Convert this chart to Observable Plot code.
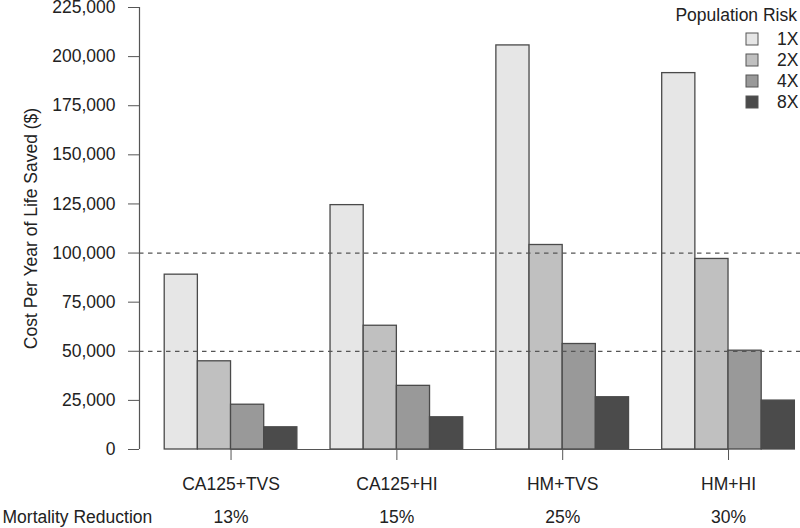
<!DOCTYPE html>
<html>
<head>
<meta charset="utf-8">
<script src="https://cdn.jsdelivr.net/npm/d3@7"></script>
<script src="https://cdn.jsdelivr.net/npm/@observablehq/plot@0.6"></script>
<style>
  body { margin: 0; background: #fff; }
  #chart { position: relative; width: 800px; height: 528px; font-family: "Liberation Sans", Arial, sans-serif; }
  #legendTitle { position: absolute; right: 3px; top: 4px; font-size: 17.5px; color: #222; line-height: 22px; }
  #legend { position: absolute; left: 746px; top: 28.5px; }
  #legend [class*="-swatches"] { margin: 0 !important; font-family: "Liberation Sans", Arial, sans-serif !important; font-size: 17.5px !important; color: #222; columns: auto !important; }
  #legend [class$="-swatch"] { height: 21px; display: flex; align-items: center; padding: 0 !important; margin: 0 !important; font-size: 17.5px !important; }
  #legend [class$="-label"] { font-size: 17.5px !important; overflow: visible !important; }
  #legend [class$="-swatch"] svg { margin-right: 19px !important; overflow: visible; }
  #legend [class$="-swatch"] svg rect { stroke: #555; stroke-width: 1; }
</style>
</head>
<body>
<div id="chart"></div>
<script>
// ---- data ----
const strategies = ["CA125+TVS", "CA125+HI", "HM+TVS", "HM+HI"];
const mortalityReduction = ["13%", "15%", "25%", "30%"];
const riskLevels = ["1X", "2X", "4X", "8X"];
const cost1X = [89000, 124400, 205700, 191600];
const cost2X = [44900, 63000, 104100, 97000];
const cost4X = [22800, 32400, 53700, 50300];
const cost8X = [11300, 16400, 26600, 24900];
const riskColors = ["#e6e6e6", "#c0c0c0", "#999999", "#4b4b4b"];
const yTicks = [0, 25000, 50000, 75000, 100000, 125000, 150000, 175000, 200000, 225000];
const referenceLines = [100000, 50000];
const yTitle = "Cost Per Year of Life Saved ($)";
const rowTitle = "Mortality Reduction";
const legendTitle = "Population Risk";

// ---- layout (R barplot style: bars side by side, one bar-width gap between groups) ----
const series = [cost1X, cost2X, cost4X, cost8X];
const slotsPerGroup = riskLevels.length + 1;
const rows = strategies.flatMap((s, g) =>
  riskLevels.map((r, i) => ({
    strategy: s,
    risk: r,
    value: series[i][g],
    x1: 1 + g * slotsPerGroup + i,
    x2: 2 + g * slotsPerGroup + i
  }))
);
const groupCenters = strategies.map((s, g) => 1 + g * slotsPerGroup + riskLevels.length / 2);
const xDomain = [0.24, 20.17];
const yDomain = [0, 225000];
const ink = "#555";

const plot = Plot.plot({
  width: 800,
  height: 528,
  marginTop: 7,
  marginBottom: 79,
  marginLeft: 139,
  marginRight: 0,
  style: { fontFamily: "Liberation Sans, Arial, sans-serif", fontSize: "17.5px", color: "#222", background: "#fff", overflow: "visible" },
  x: { type: "linear", domain: xDomain, axis: null },
  y: { domain: yDomain, axis: null },
  color: { domain: riskLevels, range: riskColors },
  marks: [
    Plot.rectY(rows, { x1: "x1", x2: "x2", y: "value", fill: "risk", stroke: "#4a4a4a", strokeWidth: 1.3 }),
    Plot.ruleY(referenceLines, { stroke: "#555", strokeWidth: 1.3, strokeDasharray: "4.5,4.5" }),
    // y axis
    Plot.ruleX([xDomain[0]], { y1: yDomain[0], y2: yDomain[1], stroke: ink, strokeWidth: 1.2 }),
    Plot.axisY(yTicks, { anchor: "left", label: null, tickSize: 11, tickPadding: 13, stroke: ink, fill: "#222", tickFormat: d3.format(",") }),
    Plot.text([yTitle], { frameAnchor: "left", rotate: -90, dx: -108, textAnchor: "middle", lineAnchor: "middle", fill: "#222" }),
    // x axis
    Plot.ruleY([0], { x1: groupCenters[0], x2: groupCenters[groupCenters.length - 1], stroke: ink, strokeWidth: 1.2 }),
    Plot.axisX(groupCenters, { anchor: "bottom", label: null, tickSize: 11, tickPadding: 17, stroke: ink, fill: "#222",
      tickFormat: d => strategies[groupCenters.indexOf(d)] }),
    Plot.axisX(groupCenters, { anchor: "bottom", label: null, tickSize: 0, tickPadding: 61, fill: "#222",
      tickFormat: d => mortalityReduction[groupCenters.indexOf(d)] }),
    Plot.text([rowTitle], { frameAnchor: "bottom-left", textAnchor: "start", lineAnchor: "top", dx: -137, dy: 61, fill: "#222" })
  ]
});

const chart = document.getElementById("chart");
chart.appendChild(plot);

const title = document.createElement("div");
title.id = "legendTitle";
title.textContent = legendTitle;
chart.appendChild(title);

const legendWrap = document.createElement("div");
legendWrap.id = "legend";
legendWrap.appendChild(plot.legend("color", { legend: "swatches", columns: 1, swatchSize: 12 }));
chart.appendChild(legendWrap);
</script>
</body>
</html>
